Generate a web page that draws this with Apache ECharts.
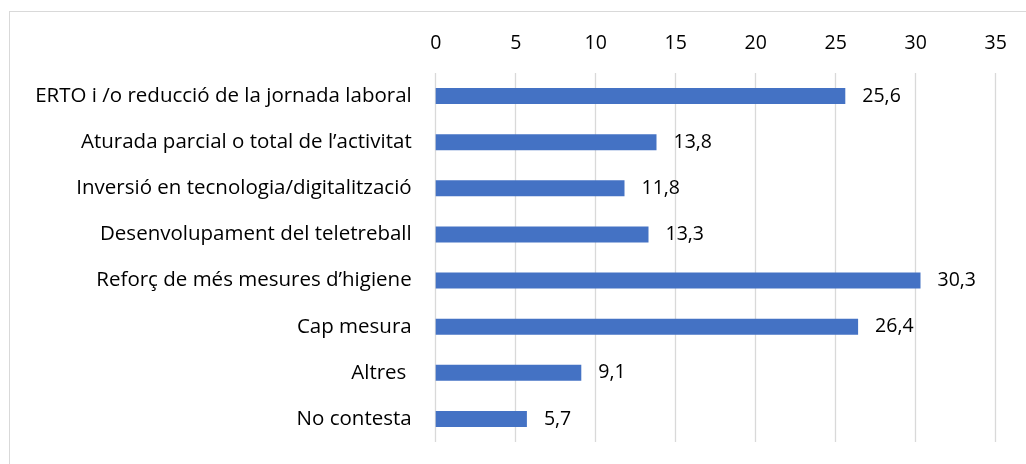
<!DOCTYPE html>
<html>
<head>
<meta charset="utf-8">
<script src="https://cdn.jsdelivr.net/npm/echarts@6/dist/echarts.min.js"></script>
<style>
    html, body {
        margin: 0;
        padding: 0;
        background: #fff;
    }
    #frame {
        position: absolute;
        left: 9px;
        top: 11px;
        width: 1040px;
        height: 480px;
        border: 1px solid #d9d9d9;
    }
    #chart {
        position: absolute;
        left: 0;
        top: 0;
        width: 1026px;
        height: 464px;
    }
</style>
</head>
<body>
<div id="frame"></div>
<div id="chart"></div>
<script>
    var categories = [
        'ERTO i /o reducció de la jornada laboral',
        'Aturada parcial o total de l\u2019activitat',
        'Inversió en tecnologia/digitalització',
        'Desenvolupament del teletreball',
        'Reforç de més mesures d\u2019higiene',
        'Cap mesura',
        'Altres ',
        'No contesta'
    ];
    var values = [25.6, 13.8, 11.8, 13.3, 30.3, 26.4, 9.1, 5.7];
    var axisMax = 35;
    var axisStep = 5;

    var font = '"Open Sans", sans-serif';
    var fs = 19.5;

    var chart = echarts.init(document.getElementById('chart'));
    chart.setOption({
        animation: false,
        grid: {
            left: 435.7,
            right: 30.3,
            top: 73,
            bottom: 22,
            containLabel: false
        },
        xAxis: {
            type: 'value',
            position: 'top',
            min: 0,
            max: axisMax,
            interval: axisStep,
            axisLine: { show: false },
            axisTick: { show: false },
            splitLine: { lineStyle: { color: '#d9d9d9', width: 1.3 } },
            axisLabel: {
                color: '#000',
                fontFamily: font,
                fontSize: fs,
                margin: 20
            }
        },
        yAxis: {
            type: 'category',
            inverse: true,
            data: categories,
            axisLine: { show: false },
            axisTick: { show: false },
            axisLabel: {
                color: '#000',
                fontFamily: font,
                fontSize: 20.5,
                margin: 24
            }
        },
        series: [{
            type: 'bar',
            data: values,
            barWidth: 16,
            itemStyle: { color: '#4472c4' },
            label: {
                show: true,
                position: 'right',
                distance: 17,
                color: '#000',
                fontFamily: font,
                fontSize: fs,
                formatter: function (p) {
                    return String(p.value).replace('.', ',');
                }
            }
        }]
    });
</script>
</body>
</html>
